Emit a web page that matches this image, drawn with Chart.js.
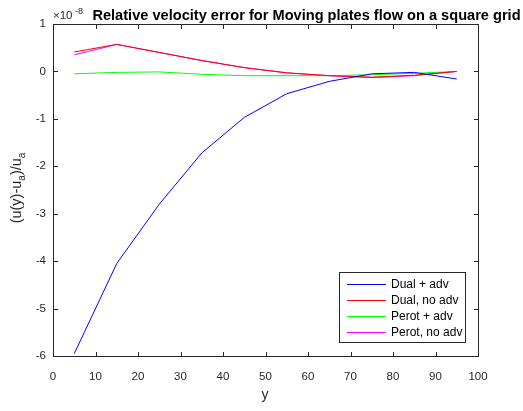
<!DOCTYPE html>
<html>
<head>
<meta charset="utf-8">
<script src="https://cdn.jsdelivr.net/npm/chart.js@4.4.1/dist/chart.umd.min.js"></script>
<style>
  html, body { margin: 0; padding: 0; background: #fff; }
  #wrap { width: 523px; height: 411px; }
</style>
</head>
<body>
<div id="wrap"><canvas id="chart" width="523" height="411"></canvas></div>
<script>
// posiciones y (0..100) y errores en unidades de 1e-8
const posY = [5, 15, 25, 35, 45, 55, 65, 75, 85, 95];
const dualAdv = [-5.95, -4.05, -2.8, -1.72, -0.97, -0.47, -0.21, -0.05, -0.02, -0.16];
const dualNoAdv = [0.41, 0.57, 0.40, 0.23, 0.08, -0.03, -0.09, -0.12, -0.08, 0.0];
const perotAdv = [-0.05, -0.02, -0.01, -0.06, -0.09, -0.09, -0.09, -0.07, -0.04, 0.0];
const perotNoAdv = [0.35, 0.57, 0.40, 0.23, 0.08, -0.03, -0.09, -0.13, -0.09, 0.0];

const xTicks = [0, 10, 20, 30, 40, 50, 60, 70, 80, 90, 100];
const yTicks = [-6, -5, -4, -3, -2, -1, 0, 1];

const FONT = "'Liberation Sans', Arial, sans-serif";
const AXIS_COLOR = "#262626";

function serie(label, valores, color) {
  return {
    label,
    data: posY.map((x, i) => ({ x, y: valores[i] })),
    borderColor: color,
    backgroundColor: color,
    borderWidth: 1,
    pointRadius: 0,
    tension: 0,
  };
}

// marco, ticks hacia adentro y textos estilo MATLAB
const matlabPlugin = {
  id: "matlab",
  afterDraw(chart) {
    const ctx = chart.ctx;
    const sx = chart.scales.x, sy = chart.scales.y;
    ctx.save();
    ctx.setLineDash([]);
    ctx.globalAlpha = 1;
    ctx.fillStyle = AXIS_COLOR;
    const L = Math.round(sx.getPixelForValue(0));
    const R = Math.round(sx.getPixelForValue(100));
    const T = Math.round(sy.getPixelForValue(1));
    const B = Math.round(sy.getPixelForValue(-6));
    ctx.fillRect(L, T, R - L + 1, 1);
    ctx.fillRect(L, B, R - L + 1, 1);
    ctx.fillRect(L, T, 1, B - T + 1);
    ctx.fillRect(R, T, 1, B - T + 1);
    const t = 4;
    xTicks.forEach((v) => {
      const px = Math.round(sx.getPixelForValue(v));
      ctx.fillRect(px, B - t, 1, t);
      ctx.fillRect(px, T + 1, 1, t);
    });
    yTicks.forEach((v) => {
      const py = Math.round(sy.getPixelForValue(v));
      ctx.fillRect(L + 1, py, t, 1);
      ctx.fillRect(R - t, py, t, 1);
    });

    // exponente
    ctx.textBaseline = "alphabetic";
    ctx.textAlign = "left";
    ctx.font = "11.5px " + FONT;
    ctx.fillText("\u00d710", 53, 19);
    ctx.font = "9px " + FONT;
    ctx.fillText("-8", 75, 14);

    // titulo
    ctx.fillStyle = "#000";
    ctx.font = "bold 14.6px " + FONT;
    ctx.textAlign = "center";
    ctx.fillText("Relative velocity error for Moving plates flow on a square grid", 306.5, 20);

    // titulo eje x
    ctx.fillStyle = AXIS_COLOR;
    ctx.font = "14px " + FONT;
    ctx.fillText("y", 265, 399);

    // titulo eje y con subindices
    ctx.translate(21, 188);
    ctx.rotate(-Math.PI / 2);
    const partes = [["(u(y)-u", 0], ["a", 1], [")/u", 0], ["a", 1]];
    let ancho = 0;
    partes.forEach(([s, sub]) => {
      ctx.font = (sub ? "10px " : "14.5px ") + FONT;
      ancho += ctx.measureText(s).width;
    });
    let x = -ancho / 2;
    ctx.textAlign = "left";
    partes.forEach(([s, sub]) => {
      ctx.font = (sub ? "10px " : "14.5px ") + FONT;
      ctx.fillText(s, x, sub ? 4 : 0);
      x += ctx.measureText(s).width;
    });
    ctx.restore();
  },
};

const legendPlugin = {
  id: "legendBox",
  afterDraw(chart) {
    const { ctx } = chart;
    ctx.save();
    ctx.setLineDash([]);
    const x0 = 339, y0 = 272, w = 126, h = 70;
    ctx.fillStyle = "#fff";
    ctx.fillRect(x0, y0, w, h);
    ctx.fillStyle = AXIS_COLOR;
    ctx.fillRect(x0, y0, w + 1, 1);
    ctx.fillRect(x0, y0 + h, w + 1, 1);
    ctx.fillRect(x0, y0, 1, h + 1);
    ctx.fillRect(x0 + w, y0, 1, h + 1);
    ctx.font = "12px " + FONT;
    ctx.textBaseline = "middle";
    ctx.textAlign = "left";
    chart.data.datasets.forEach((ds, i) => {
      const yy = Math.round(y0 + 12 + i * 16);
      ctx.fillStyle = ds.borderColor;
      ctx.fillRect(x0 + 8, yy, 39, 1);
      ctx.fillStyle = "#000";
      ctx.fillText(ds.label, x0 + 52, yy + 0.5);
    });
    ctx.restore();
  },
};

new Chart(document.getElementById("chart"), {
  type: "line",
  data: {
    datasets: [
      serie("Dual + adv", dualAdv, "#0000ff"),
      serie("Dual, no adv", dualNoAdv, "#ff0000"),
      serie("Perot + adv", perotAdv, "#00ff00"),
      serie("Perot, no adv", perotNoAdv, "#ff00ff"),
    ],
  },
  options: {
    responsive: false,
    animation: false,
    layout: { padding: { top: 24, right: 45, left: 0, bottom: 0 } },
    plugins: {
      legend: { display: false },
      tooltip: { enabled: false },
      title: { display: false },
    },
    scales: {
      x: {
        type: "linear",
        min: 0,
        max: 100,
        afterBuildTicks: (s) => { s.ticks = xTicks.map((v) => ({ value: v })); },
        afterFit: (s) => { s.height = 55; },
        grid: { display: false, drawTicks: false },
        border: { display: false },
        ticks: { color: AXIS_COLOR, font: { family: FONT, size: 11.5 }, padding: 14, maxRotation: 0 },
      },
      y: {
        type: "linear",
        min: -6,
        max: 1,
        afterBuildTicks: (s) => { s.ticks = yTicks.map((v) => ({ value: v })); },
        afterFit: (s) => { s.width = 53; },
        grid: { display: false, drawTicks: false },
        border: { display: false },
        ticks: { color: AXIS_COLOR, font: { family: FONT, size: 11.5 }, padding: 7 },
      },
    },
  },
  plugins: [matlabPlugin, legendPlugin],
});
</script>
</body>
</html>
